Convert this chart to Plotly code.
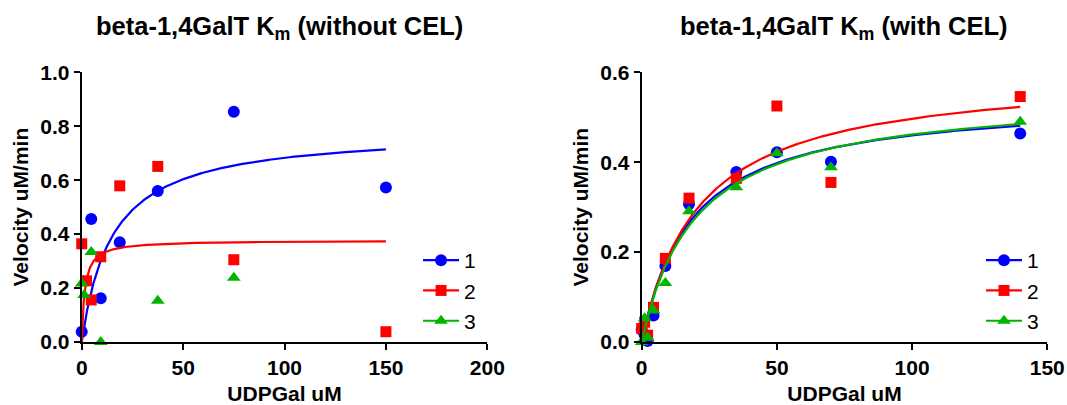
import numpy as np
import plotly.graph_objects as go

# substrate concentrations (UDPGal uM)
conc_right = [0, 1.09, 2.19, 4.375, 8.75, 17.5, 35, 50, 70, 140]

# velocities, without CEL
left_1_x = [0, 4.69, 9.375, 18.75, 37.5, 75, 150]
left_1_y = [0.038, 0.456, 0.162, 0.370, 0.560, 0.854, 0.573]
left_2_x = [0, 2.34, 4.69, 9.375, 18.75, 37.5, 75, 150]
left_2_y = [0.364, 0.227, 0.156, 0.316, 0.579, 0.651, 0.305, 0.038]
left_3_x = [0, 1.17, 4.69, 9.375, 37.5, 75]
left_3_y = [0.217, 0.174, 0.334, 0.0, 0.153, 0.238]

# velocities, with CEL
right_1_y = [0.027, 0.016, 0.002, 0.059, 0.169, 0.307, 0.378, 0.422, 0.401, 0.464]
right_2_y = [0.030, 0.044, 0.015, 0.077, 0.186, 0.320, 0.364, 0.525, 0.355, 0.546]
right_3_y = [0.0, 0.053, 0.010, 0.070, 0.131, 0.291, 0.344, 0.420, 0.389, 0.490]

# Michaelis-Menten fit parameters (Vmax, Km)
fit_left = {"1": (0.786, 15.1), "2": (0.377, 1.5), "3": None}
fit_right = {"1": (0.544, 18.3), "2": (0.602, 21.1), "3": (0.554, 20.0)}

colors = {"1": "#0000ff", "2": "#ff0000", "3": "#00b400"}
symbols = {"1": "circle", "2": "square", "3": "triangle-up"}
sizes = {"1": 12, "2": 11, "3": 12}

FONT = "Liberation Sans, Arial, sans-serif"

fig = go.Figure()


def mm(x, vmax, km):
    return vmax * x / (km + x)


def add_set(name, xs, ys, fit, xmax, xa, ya, legend):
    c = colors[name]
    if fit is not None:
        xc = np.linspace(0, xmax, 800)
        fig.add_trace(go.Scatter(x=xc, y=mm(xc, *fit), mode="lines",
                                 line=dict(color=c, width=2.2), xaxis=xa, yaxis=ya,
                                 showlegend=False, hoverinfo="skip", cliponaxis=False))
    fig.add_trace(go.Scatter(x=xs, y=ys, mode="markers", name=name,
                             marker=dict(color=c, symbol=symbols[name], size=sizes[name]),
                             xaxis=xa, yaxis=ya, cliponaxis=False, showlegend=False))
    # legend entry: line + marker
    fig.add_trace(go.Scatter(x=[None], y=[None], mode="lines+markers", name=name,
                             marker=dict(color=c, symbol=symbols[name], size=sizes[name]),
                             line=dict(color=c, width=2.2), xaxis=xa, yaxis=ya,
                             legend=legend))


add_set("1", left_1_x, left_1_y, fit_left["1"], 150, "x", "y", "legend")
add_set("2", left_2_x, left_2_y, fit_left["2"], 150, "x", "y", "legend")
add_set("3", left_3_x, left_3_y, fit_left["3"], 150, "x", "y", "legend")
add_set("1", conc_right, right_1_y, fit_right["1"], 140, "x2", "y2", "legend2")
add_set("2", conc_right, right_2_y, fit_right["2"], 140, "x2", "y2", "legend2")
add_set("3", conc_right, right_3_y, fit_right["3"], 140, "x2", "y2", "legend2")

tickfont = dict(family=FONT, size=21, color="black", weight="bold")
titlefont = dict(family=FONT, size=21, color="black", weight="bold")
axis_common = dict(showline=True, linecolor="black", linewidth=2, ticks="outside",
                   ticklen=6, tickwidth=2, tickcolor="black", showgrid=False,
                   zeroline=False, tickfont=tickfont, mirror=False, automargin=False)

fig.update_layout(
    width=1067, height=405,
    margin=dict(l=0, r=0, t=0, b=0),
    paper_bgcolor="white", plot_bgcolor="white",
    xaxis=dict(domain=[0.0766, 0.4567], range=[0, 200], tickvals=[0, 50, 100, 150, 200],
               title=dict(text="UDPGal uM", font=titlefont, standoff=9), anchor="y",
               **axis_common),
    yaxis=dict(domain=[0.1556, 0.8215], range=[0, 1.0], tickvals=[0, 0.2, 0.4, 0.6, 0.8, 1.0],
               tickformat=".1f", title=dict(text="Velocity uM/min", font=titlefont, standoff=6),
               anchor="x", **axis_common),
    xaxis2=dict(domain=[0.6014, 0.9815], range=[0, 150], tickvals=[0, 50, 100, 150],
                title=dict(text="UDPGal uM", font=titlefont, standoff=9), anchor="y2",
                **axis_common),
    yaxis2=dict(domain=[0.1556, 0.8215], range=[0, 0.6], tickvals=[0, 0.2, 0.4, 0.6],
                tickformat=".1f", title=dict(text="Velocity uM/min", font=titlefont, standoff=6),
                anchor="x2", **axis_common),
    legend=dict(x=0.3918, y=0.4074, xanchor="left", yanchor="top", bgcolor="rgba(0,0,0,0)",
                itemwidth=36, font=dict(family=FONT, size=21, color="black")),
    legend2=dict(x=0.9194, y=0.4074, xanchor="left", yanchor="top", bgcolor="rgba(0,0,0,0)",
                 itemwidth=36, font=dict(family=FONT, size=21, color="black")),
    annotations=[
        dict(text="beta-1,4GalT K<sub>m</sub> (without CEL)", x=0.2624, y=0.931,
             xref="paper", yref="paper", showarrow=False, xanchor="center", yanchor="middle",
             font=dict(family=FONT, size=25.5, color="black", weight="bold")),
        dict(text="beta-1,4GalT K<sub>m</sub> (with CEL)", x=0.791, y=0.931,
             xref="paper", yref="paper", showarrow=False, xanchor="center", yanchor="middle",
             font=dict(family=FONT, size=25.5, color="black", weight="bold")),
    ],
)

# drop the default page margin so the figure fills the window exactly
fig.write_html("out.html", config={"displayModeBar": False},
               post_script="document.body.style.margin='0';"
                           "document.documentElement.style.overflow='hidden';")
